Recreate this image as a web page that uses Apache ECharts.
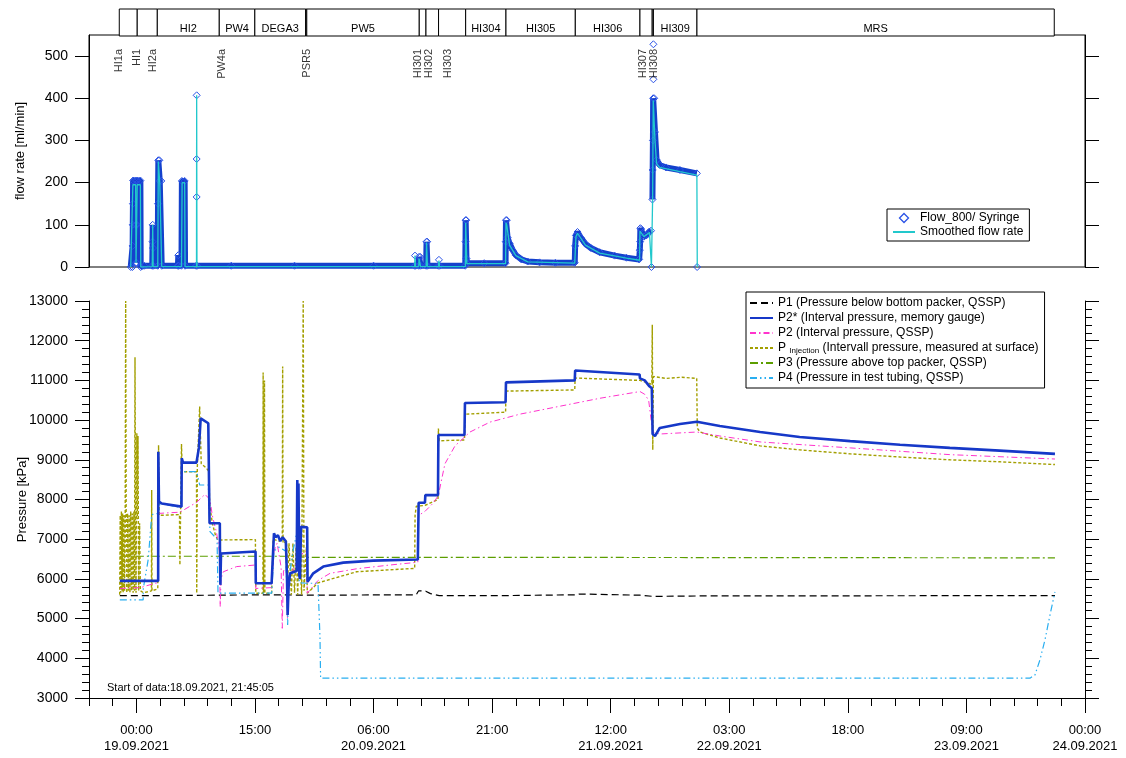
<!DOCTYPE html>
<html><head><meta charset="utf-8">
<script src="https://cdn.jsdelivr.net/npm/echarts@6/dist/echarts.min.js"></script>
<style>html,body{margin:0;padding:0;background:#fff}#c{width:1126px;height:758px}</style>
</head><body><div id="c"></div><script>
const FONT = "'Liberation Sans', Arial, sans-serif";
// time axis: hours relative to 19.09.2021 00:00
const X_MIN = -6, X_MAX = 120;
const xTickHours = [0, 15, 30, 45, 60, 75, 90, 105, 120];
const xTickLabels = ['00:00\n19.09.2021', '15:00', '06:00\n20.09.2021', '21:00', '12:00\n21.09.2021', '03:00\n22.09.2021', '18:00', '09:00\n23.09.2021', '00:00\n24.09.2021'];
const xMinorHours = [];
for (let h = X_MIN; h <= X_MAX; h += 3) xMinorHours.push(h);
const flowTicks = [0, 100, 200, 300, 400, 500];

// test phases (top bar)
const phaseStart = [-2.17, 0.1, 2.64, 10.48, 14.98, 21.4, 21.55, 35.78, 36.63, 38.22, 41.65, 46.75, 55.52, 63.7, 65.25, 65.4, 70.91];
const phaseEnd   = [0.1, 2.64, 10.48, 14.98, 21.4, 21.55, 35.78, 36.63, 38.22, 41.65, 46.75, 55.52, 63.7, 65.25, 65.4, 70.91, 116.11];
const phaseNames = ['', '', 'HI2', 'PW4', 'DEGA3', '', 'PW5', '', '', '', 'HI304', 'HI305', 'HI306', '', '', 'HI309', 'MRS'];

// test labels (vertical)
const testNames = ['HI1a', 'HI1', 'HI2a', 'PW4a', 'PSR5', 'HI301', 'HI302', 'HI303', 'HI307', 'HI308'];
const testHours = [-2.17, 0.03, 2.06, 10.79, 21.62, 35.66, 37.05, 39.38, 64.12, 65.51];
const testLabelLevel = 517;

// flow rate [ml/min]
const flow800 = [[-0.72,0],[-0.5,0],[-0.48,50],[-0.46,100],[-0.44,150],[-0.42,205],[-0.1,205],[-0.08,100],[-0.05,10],[0.03,10],[0.06,100],[0.1,205],[0.5,205],[0.54,0],
[1.0,3],[2.0,3],[2.04,60],[2.06,100],[2.1,45],[2.15,3],[2.7,3],[2.73,150],[2.77,253],[2.9,253],[2.95,204],[3.15,204],[3.2,3],[5.25,3],[5.3,28],[5.35,3],[5.7,3],[5.75,204],[6.1,204],[6.15,3],[7.55,3],
[7.62,null],[7.62,166],[7.62,null],[7.62,256],[7.62,null],[7.62,407],[7.62,null],
[7.68,3],[12,3],[20,3],[30,3],[35.2,3],[35.22,null],[35.24,27],[35.26,null],[35.3,3],[35.72,3],[35.75,24],[35.9,24],[35.95,3],[36.65,3],[36.7,60],[36.78,60],[36.82,3],[38.2,3],[38.22,null],[38.27,17],[38.3,null],[38.35,3],
[41.6,3],[41.63,60],[41.65,111],[41.72,111],[41.75,20],[41.8,9],[44,9],[46.7,9],[46.72,60],[46.75,111],[46.85,111],[46.95,70],[47.2,56],[47.6,40],[48.0,28],[48.7,18],[49.5,13],[51,11],[53,10],[55.45,10],
[55.5,50],[55.6,75],[55.8,83],[56.2,70],[56.8,55],[57.5,45],[58.6,35],[60.5,27],[62,22],[63.6,18],[63.68,40],[63.72,60],[63.75,92],[63.85,90],[64.2,72],[64.5,75],[64.9,84],[65.1,86],
[65.12,null],[65.15,0],[65.2,null],[65.28,160],[65.31,230],[65.34,300],[65.37,400],[65.5,400],[65.6,320],[65.8,254],[66.2,242],[67,236],[68.76,230],[70.9,222],
[70.92,null],[70.93,0],[70.94,null],[65.4,528],[65.4,null],[65.4,445]];
const flowSmoothed = [[-0.72,0],[-0.5,0],[-0.45,195],[-0.1,195],[-0.05,10],[0.05,10],[0.1,195],[0.5,195],[0.55,0],[2.0,1],[2.06,100],[2.12,1],[2.7,1],[2.77,250],[2.92,250],[2.95,200],[3.15,200],[3.2,1],[5.7,1],[5.78,200],[6.1,200],[6.15,1],[7.6,1],[7.62,407],[7.66,1],
[35.2,1],[35.24,27],[35.3,1],[35.72,1],[35.75,20],[35.9,20],[35.95,1],[36.65,1],[36.7,58],[36.78,58],[36.82,1],[38.2,1],[38.27,15],[38.35,1],[41.62,1],[41.65,105],[41.72,105],[41.8,8],[46.7,8],[46.75,105],[46.85,100],[47.2,52],[48,27],[49.5,12],[55.45,9],
[55.6,72],[55.8,80],[56.8,52],[58.6,33],[62,21],[63.65,16],[63.7,85],[64.2,72],[64.9,82],[65.1,84],[65.15,0],[65.3,160],[65.38,395],[65.5,395],[65.6,300],[65.8,245],[66.2,236],[68.76,226],[70.9,218],[70.95,0]];

// pressure [kPa]
const p1 = [[-2.1,5580],[2.77,5580],[2.8,5610],[17.1,5600],[21.6,5590],[35.4,5600],[35.7,5700],[36.6,5690],[37.2,5630],[38.3,5580],[46.7,5580],[55.5,5600],[56,5620],[63.7,5590],[65.3,5560],[70.9,5570],[116.2,5580]];
const p2star = [[-2.1,5950],[2.75,5950],[2.77,9200],[2.85,7950],[3.2,7900],[5.7,7820],[5.73,9040],[5.9,8930],[7.6,8930],[7.9,9300],[8.13,10045],[9.09,9920],[9.2,9900],[9.25,7400],[10.55,7400],[10.57,6645],[10.62,5850],[10.7,6640],[15.07,6690],[15.1,5890],
[17.1,5890],[17.4,7150],[17.6,7050],[17.9,7100],[18.2,6950],[18.5,7050],[18.9,6950],[19.05,6000],[19.13,5090],[19.25,5800],[19.43,6140],[20.27,6200],[20.35,8490],[20.42,6500],[20.5,8400],[20.6,6100],[20.69,6000],[20.82,7310],[21.6,7300],[21.65,5930],
[22.37,6140],[23.64,6310],[26.17,6410],[29.96,6460],[35.6,6490],[35.7,7920],[36.5,7920],[36.55,8110],[38.15,8110],[38.2,9625],[41.5,9625],[41.56,10430],[46.7,10450],[46.75,10950],[55.45,11000],[55.5,11250],[63.65,11150],[63.7,11050],[64.3,11000],[64.9,10850],[65.2,10800],[65.3,9650],[65.6,9600],[66.2,9800],[68.76,9900],[70.9,9960],
[73.8,9850],[78.9,9700],[83.9,9575],[90.3,9470],[96.6,9380],[102.9,9300],[109.2,9230],[116.2,9150]];
const p2 = [[-2.1,5760],[0.5,5780],[2.35,5890],[2.75,5900],[2.8,7650],[5.5,7680],[6.78,7830],[7.62,7930],[8.67,8130],[9.3,8000],[9.6,7600],[10.15,7150],[10.5,6700],[10.6,5300],[10.7,6000],[10.99,6180],[12.68,6310],[15.05,6350],[15.1,5760],
[17.1,5780],[17.4,6700],[17.8,6900],[18.3,6300],[18.45,4755],[18.6,6200],[19.0,6300],[19.1,4990],[19.3,6000],[20.0,6300],[20.7,6600],[21.5,6700],[21.62,5640],[22.97,5960],[24.49,6140],[27.86,6255],[32.08,6350],[35.6,6420],
[35.7,7600],[36.5,7700],[37.5,7900],[38.2,8100],[38.5,8400],[39.03,8900],[40.3,9350],[42.2,9700],[44.73,9950],[48.52,10150],[53.59,10350],[58.64,10550],[63.7,10720],[64.3,10650],[64.8,10500],[65.3,9700],[66.2,9650],[70.9,9700],[73.8,9600],[78.9,9450],[90.3,9300],[102.9,9130],[116.2,9020]];
const pInj = [[-2.12,5600],[-2.05,7600],[-1.98,5650],[-1.9,7700],[-1.82,5700],[-1.75,7650],[-1.68,5650],[-1.6,7600],[-1.5,5700],[-1.42,7700],[-1.36,13000],[-1.3,7700],[-1.22,5650],[-1.12,7650],[-1.02,5700],[-0.92,7600],[-0.82,5650],[-0.72,7700],[-0.62,5700],[-0.52,7650],[-0.42,5650],[-0.32,7700],[-0.24,5700],[-0.18,11580],[-0.12,7600],[-0.05,5650],[0.05,9670],[0.12,7500],[0.2,9600],[0.28,5700],[0.4,7400],[0.5,5700],[0.9,5650],
[1.9,5700],[1.93,8240],[1.97,5700],[2.7,5750],[2.8,9370],[2.88,7600],[5.45,7620],[5.5,6350],[5.7,9400],[5.8,8700],[7.6,8700],[7.63,5640],[7.7,8800],[8.0,10340],[8.2,8900],[8.8,8800],[9.2,8700],[9.25,7900],[9.6,7400],[10.0,7100],[10.3,6980],[15.05,6990],[15.1,5640],
[16.0,5640],[16.03,11200],[16.08,5640],[16.2,11000],[16.25,5640],[17.1,5640],[17.3,7000],[18.0,6950],[18.45,7000],[18.5,11350],[18.55,6900],[19.0,6950],[19.1,5700],[19.3,6900],[19.6,5600],[19.8,6900],[20.0,5650],[20.2,6800],[20.4,5600],[20.6,7000],[20.9,5600],[21.1,13000],[21.2,5700],[21.5,6800],[21.62,5640],
[22.97,5900],[27.86,6180],[35.2,6265],[35.25,7600],[35.4,7830],[36.5,7850],[38.15,8000],[38.2,9790],[38.3,9480],[41.5,9500],[41.6,10150],[46.7,10200],[46.75,10730],[55.45,10760],[55.5,11060],[63.7,11000],[65.2,10900],[65.26,12400],[65.32,9250],[65.4,11100],[67,11050],[69,11080],[70.88,11050],[70.95,9800],
[71.3,9700],[73.8,9550],[78.9,9350],[83.9,9250],[90.3,9150],[96.6,9070],[102.9,9000],[109.2,8950],[116.2,8880]];
const p3 = [[-2.1,6570],[20.0,6570],[21.6,6540],[60,6540],[116.2,6530]];
const p4 = [[-2.1,5470],[0.85,5470],[0.87,5760],[1.5,6500],[1.93,7620],[2.77,7650],[2.98,7900],[5.6,7800],[5.73,8700],[7.62,8700],[8.0,8365],[9.09,8365],[9.31,7190],[10.2,7000],[10.32,5640],[17.11,5640],[17.4,6700],[18.0,6800],[18.9,6700],[19.13,4840],[19.3,6000],[19.81,6700],[20.35,7230],[20.6,5900],[21.6,5890],[22.97,5890],[23.22,4540],[23.3,3500],
[113.04,3500],[113.67,3580],[114.3,3960],[114.93,4460],[115.57,5090],[116.2,5670]];

const NAME_FLOW = 'Flow_800/ Syringe', NAME_SMOOTH = 'Smoothed flow rate';
const NAME_P1 = 'P1 (Pressure below bottom packer, QSSP)';
const NAME_P2S = 'P2* (Interval pressure, memory gauge)';
const NAME_P2 = 'P2 (Interval pressure, QSSP)';
const NAME_PINJ = 'P_Injection (Intervall pressure, measured at surface)';
const NAME_P3 = 'P3 (Pressure above top packer, QSSP)';
const NAME_P4 = 'P4 (Pressure in test tubing, QSSP)';

const chart = echarts.init(document.getElementById('c'), null, {renderer: 'canvas'});
const axisLineStyle = {color: '#000', width: 1};
const baseX = {type: 'value', min: X_MIN, max: X_MAX};
const pLine = (name, data, color, width, type, z) => ({
  name, type: 'line', xAxisIndex: 2, yAxisIndex: 3, data, symbol: 'none', showSymbol: false, z: z || 2,
  lineStyle: {color, width, type}, itemStyle: {color}, emphasis: {disabled: true}
});

chart.setOption({
  animation: false,
  textStyle: {fontFamily: FONT},
  title: {text: 'Start of data:18.09.2021, 21:45:05', left: 102, top: 677, textStyle: {fontSize: 11, fontWeight: 'normal', color: '#000', fontFamily: FONT}},
  grid: [
    {left: 89, right: 41, top: 9, height: 27, outerBoundsMode: 'none'},
    {left: 89, right: 41, top: 35, height: 232, show: true, borderColor: '#000', borderWidth: 1, outerBoundsMode: 'none'},
    {left: 89, right: 41, top: 301, height: 397, outerBoundsMode: 'none'}
  ],
  xAxis: [
    Object.assign({}, baseX, {gridIndex: 0, show: false}),
    Object.assign({}, baseX, {gridIndex: 1, axisLine: {show: false, onZero: false}, axisTick: {show: false}, axisLabel: {show: false}, splitLine: {show: false}}),
    Object.assign({}, baseX, {gridIndex: 2, position: 'bottom', axisLine: {show: true, onZero: false, lineStyle: axisLineStyle}, splitLine: {show: false},
      axisTick: {show: true, length: 15, customValues: xTickHours, lineStyle: axisLineStyle},
      axisLabel: {customValues: xTickHours, margin: 24, fontSize: 13, lineHeight: 16, color: '#000', fontFamily: FONT,
        formatter: v => { const i = xTickHours.indexOf(v); return i >= 0 ? xTickLabels[i] : ''; }}}),
    Object.assign({}, baseX, {gridIndex: 2, position: 'bottom', axisLine: {show: false, onZero: false}, splitLine: {show: false},
      axisTick: {show: true, length: 8, customValues: xMinorHours, lineStyle: axisLineStyle}, axisLabel: {show: false}})
  ],
  yAxis: [
    {gridIndex: 0, type: 'value', min: 0, max: 1, show: false},
    {gridIndex: 1, type: 'value', min: 0, max: 550, position: 'left', name: 'flow rate [ml/min]', nameLocation: 'middle', nameGap: 62, nameMoveOverlap: false,
      nameTextStyle: {fontSize: 13, color: '#000', fontFamily: FONT},
      axisLine: {show: true, onZero: false, lineStyle: axisLineStyle}, splitLine: {show: false},
      axisTick: {show: true, length: 14, customValues: flowTicks, lineStyle: axisLineStyle},
      axisLabel: {customValues: flowTicks, margin: 21, fontSize: 14, color: '#000', fontFamily: FONT, formatter: v => String(v)}},
    {gridIndex: 1, type: 'value', min: 0, max: 550, position: 'right',
      axisLine: {show: true, onZero: false, lineStyle: axisLineStyle}, splitLine: {show: false},
      axisTick: {show: true, length: 14, customValues: flowTicks, lineStyle: axisLineStyle}, axisLabel: {show: false}},
    {gridIndex: 2, type: 'value', min: 3000, max: 13000, interval: 1000, position: 'left', name: 'Pressure [kPa]', nameLocation: 'middle', nameGap: 60, nameMoveOverlap: false,
      nameTextStyle: {fontSize: 13, color: '#000', fontFamily: FONT},
      axisLine: {show: true, onZero: false, lineStyle: axisLineStyle}, splitLine: {show: false},
      axisTick: {show: true, length: 14, lineStyle: axisLineStyle},
      minorTick: {show: true, splitNumber: 5, length: 7, lineStyle: axisLineStyle},
      axisLabel: {margin: 21, fontSize: 14, color: '#000', fontFamily: FONT, formatter: v => String(v)}},
    {gridIndex: 2, type: 'value', min: 3000, max: 13000, interval: 1000, position: 'right',
      axisLine: {show: true, onZero: false, lineStyle: axisLineStyle}, splitLine: {show: false},
      axisTick: {show: true, length: 14, lineStyle: axisLineStyle},
      minorTick: {show: true, splitNumber: 5, length: 7, lineStyle: axisLineStyle},
      axisLabel: {show: false}}
  ],
  legend: [
    {data: [{name: NAME_FLOW, icon: 'path://M0,-5L5,0L0,5L-5,0Z', itemStyle: {color: '#fff', borderColor: '#2a52e6', borderWidth: 1.3}}, {name: NAME_SMOOTH, itemStyle: {opacity: 0}}],
      orient: 'vertical', left: 887, top: 209, itemWidth: 22, itemHeight: 9, itemGap: 2, padding: [3, 6, 3, 5],
      borderColor: '#000', borderWidth: 1, selectedMode: false, textStyle: {fontSize: 12, color: '#000', fontFamily: FONT}},
    {data: [NAME_P1, NAME_P2S, NAME_P2, NAME_PINJ, NAME_P3, NAME_P4],
      orient: 'vertical', left: 746, top: 292, itemWidth: 23, itemHeight: 8, itemGap: 1, padding: [4, 6, 3, 3],
      borderColor: '#000', borderWidth: 1, selectedMode: false, itemStyle: {opacity: 0},
      formatter: n => n === NAME_PINJ ? 'P {sub|Injection} (Intervall pressure, measured at surface)' : n,
      textStyle: {fontSize: 12, lineHeight: 14, color: '#000', fontFamily: FONT,
        rich: {sub: {fontSize: 8, verticalAlign: 'bottom', lineHeight: 14, fontFamily: FONT, color: '#000'}}}}
  ],
  series: [
    {type: 'custom', xAxisIndex: 0, yAxisIndex: 0, silent: true, clip: false, z: 5,
      data: phaseStart.map((s, i) => [s, phaseEnd[i]]), encode: {x: [0, 1]},
      renderItem: (params, api) => {
        const p0 = api.coord([api.value(0), 1]), p1c = api.coord([api.value(1), 0]);
        return {type: 'group', children: [
          {type: 'rect', shape: {x: p0[0], y: p0[1], width: p1c[0] - p0[0], height: p1c[1] - p0[1]}, style: {fill: '#fff', stroke: '#000', lineWidth: 1}},
          {type: 'text', style: {text: phaseNames[params.dataIndex], x: (p0[0] + p1c[0]) / 2, y: p1c[1] - 7, align: 'center', verticalAlign: 'middle', fontSize: 11, fontFamily: FONT, fill: '#000'}}
        ]};
      }},
    {name: NAME_FLOW, type: 'line', xAxisIndex: 1, yAxisIndex: 1, data: flow800, z: 3,
      symbol: 'diamond', symbolSize: 7, showSymbol: true, showAllSymbol: true, connectNulls: false,
      lineStyle: {color: '#1441cc', width: 6}, itemStyle: {color: 'rgba(255,255,255,0)', borderColor: '#2a52e6', borderWidth: 1}, emphasis: {disabled: true}},
    {name: NAME_SMOOTH, type: 'line', xAxisIndex: 1, yAxisIndex: 1, data: flowSmoothed, z: 4, symbol: 'none', showSymbol: false,
      lineStyle: {color: '#22c8cc', width: 1.3}, itemStyle: {color: '#22c8cc'}, emphasis: {disabled: true}},
    {type: 'scatter', xAxisIndex: 1, yAxisIndex: 1, silent: true, z: 6, symbolSize: 1, itemStyle: {color: 'rgba(0,0,0,0)'},
      data: testHours.map((t, i) => ({value: [t, testLabelLevel], name: testNames[i]})),
      label: {show: true, formatter: '{b}', position: 'inside', rotate: 90, align: 'right', verticalAlign: 'middle', fontSize: 11, color: '#000', fontFamily: FONT}},
    pLine(NAME_P1, p1, '#000000', 1.2, [7, 4], 2),
    pLine(NAME_P2S, p2star, '#1638c8', 2.6, 'solid', 6),
    pLine(NAME_P2, p2, '#ff33cc', 1, [6, 3, 1.5, 3], 4),
    pLine(NAME_PINJ, pInj, '#a39f00', 1.4, [3, 2], 3),
    pLine(NAME_P3, p3, '#5c9e00', 1.2, [8, 3, 2, 3], 2),
    pLine(NAME_P4, p4, '#29aef0', 1.2, [7, 3, 1.5, 3, 1.5, 3], 5)
  ]
});
</script></body></html>
